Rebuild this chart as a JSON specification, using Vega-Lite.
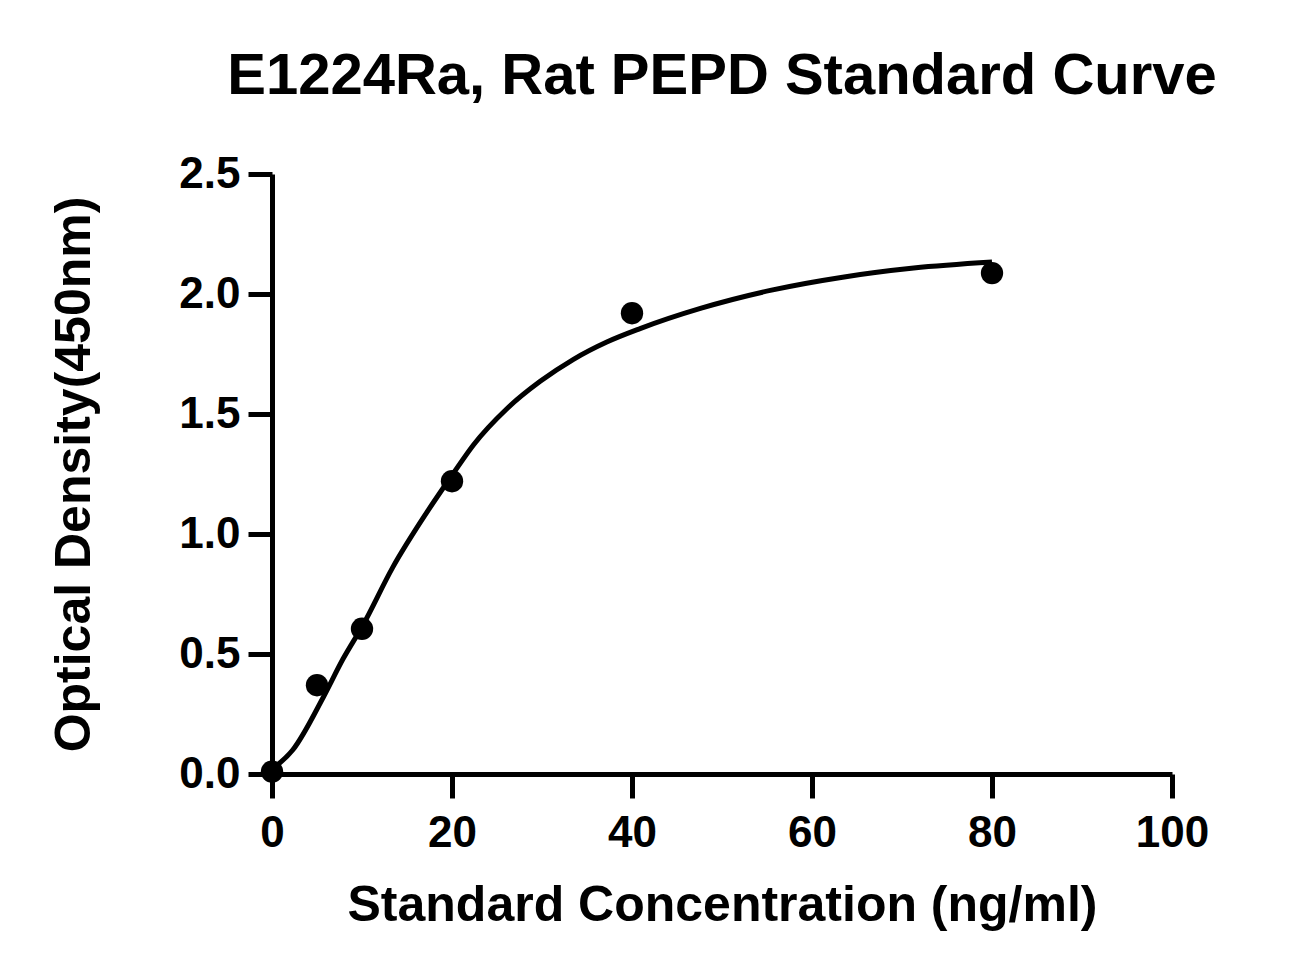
{
  "$schema": "https://vega.github.io/schema/vega-lite/v6.json",
  "autosize": {"type": "none"},
  "padding": {"left": 272, "top": 174, "right": 139, "bottom": 201},
  "width": 900,
  "height": 600,
  "background": "white",
  "title": {
    "text": "E1224Ra, Rat PEPD Standard Curve",
    "font": "Liberation Sans",
    "fontSize": 58,
    "fontWeight": "bold",
    "color": "black",
    "anchor": "middle",
    "offset": 46
  },
  "datasets": {
    "standards": [
      {"conc": 0, "od": 0.01},
      {"conc": 5, "od": 0.37},
      {"conc": 10, "od": 0.605},
      {"conc": 20, "od": 1.22},
      {"conc": 40, "od": 1.92},
      {"conc": 80, "od": 2.087}
    ],
    "fit": [
      {"conc": 0, "od": 0.02},
      {"conc": 2.3, "od": 0.1},
      {"conc": 5.7, "od": 0.32},
      {"conc": 7.9, "od": 0.48},
      {"conc": 10.1, "od": 0.62},
      {"conc": 13.4, "od": 0.86},
      {"conc": 17.2, "od": 1.09},
      {"conc": 20.1, "od": 1.25},
      {"conc": 22.4, "od": 1.372},
      {"conc": 26.1, "od": 1.522},
      {"conc": 29.8, "od": 1.636},
      {"conc": 33.5, "od": 1.728},
      {"conc": 37.2, "od": 1.8},
      {"conc": 40.9, "od": 1.856},
      {"conc": 47.6, "od": 1.94},
      {"conc": 55.5, "od": 2.016},
      {"conc": 63.4, "od": 2.07},
      {"conc": 71.3, "od": 2.108},
      {"conc": 80, "od": 2.133}
    ]
  },
  "encoding": {
    "x": {
      "field": "conc",
      "type": "quantitative",
      "title": "Standard Concentration (ng/ml)",
      "scale": {"domain": [0, 100], "nice": false},
      "axis": {"values": [0, 20, 40, 60, 80, 100], "labelFlush": false, "labelPadding": 13, "titlePadding": 25}
    },
    "y": {
      "field": "od",
      "type": "quantitative",
      "title": "Optical Density(450nm)",
      "scale": {"domain": [0, 2.5], "nice": false},
      "axis": {"values": [0, 0.5, 1, 1.5, 2, 2.5], "format": ".1f", "labelFlush": false, "labelPadding": 8, "titlePadding": 79}
    }
  },
  "layer": [
    {
      "data": {"name": "fit"},
      "mark": {"type": "line", "color": "black", "strokeWidth": 5, "interpolate": "monotone", "clip": false}
    },
    {
      "data": {"name": "standards"},
      "mark": {"type": "circle", "color": "black", "opacity": 1, "size": 500, "clip": false}
    }
  ],
  "config": {
    "view": {"stroke": null},
    "axis": {
      "grid": false,
      "domainColor": "black",
      "domainWidth": 5,
      "tickColor": "black",
      "tickWidth": 5,
      "tickSize": 24,
      "labelFont": "Liberation Sans",
      "labelFontSize": 44,
      "labelFontWeight": "bold",
      "labelColor": "black",
      "titleFont": "Liberation Sans",
      "titleFontSize": 50,
      "titleFontWeight": "bold",
      "titleColor": "black"
    }
  }
}
